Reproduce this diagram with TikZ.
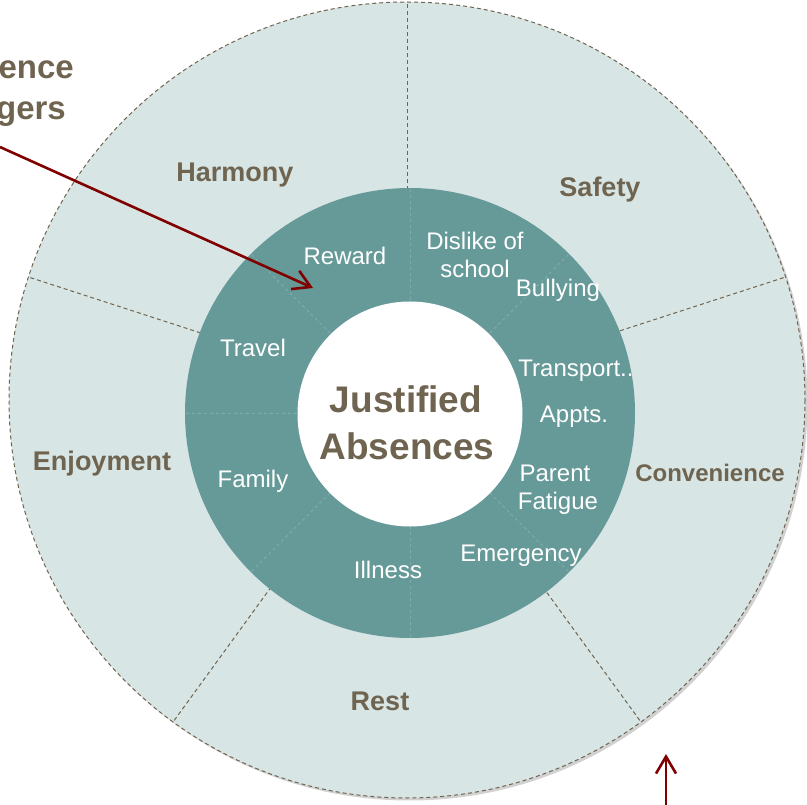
\documentclass[tikz,border=0pt]{standalone}
\usepackage{fontspec}
\setmainfont{Liberation Sans}
\usetikzlibrary{arrows.meta,calc}
\definecolor{ringlight}{RGB}{215,229,228}
\definecolor{ringteal}{RGB}{102,154,153}
\definecolor{brownt}{RGB}{111,100,80}
\definecolor{arrowred}{RGB}{128,0,0}
\definecolor{faintline}{RGB}{128,172,170}
\begin{document}
\begin{tikzpicture}[x=1pt,y=-1pt,
  seglabel/.style={text=brownt,font=\fontsize{27}{32}\selectfont\bfseries,inner sep=0pt,anchor=base},
  itemlabel/.style={text=white,font=\fontsize{24}{28}\selectfont,inner sep=0pt,anchor=base},
  titlelabel/.style={text=brownt,font=\fontsize{37}{45}\selectfont\bfseries,inner sep=0pt,anchor=base},
  sidelabel/.style={text=brownt,font=\fontsize{33}{40}\selectfont\bfseries,inner sep=0pt,anchor=base east},
  divider/.style={draw=brownt,line width=1pt,dash pattern=on 4pt off 3pt},
  faintdiv/.style={draw=faintline,line width=0.8pt,dash pattern=on 3pt off 3pt},
  redarrow/.style={draw=arrowred,line width=2.6pt,-{Straight Barb[length=17pt,width=20pt]}}]
\useasboundingbox (0,0) rectangle (807,805);
% outer ring
\coordinate (oc) at (407,400);
\fill[black,opacity=0.18] (409.5,402.5) circle[radius=398];
\fill[ringlight] (oc) circle[radius=398];
\draw[divider] (oc) circle[radius=398];
\foreach \a in {-90,-18,54,126,198}{
  \draw[divider] (oc) -- ++(\a:398);
}
% inner ring
\coordinate (ic) at (410,413);
\fill[ringteal] (ic) circle[radius=225];
\foreach \a in {-90,-45,-135,180,135,90,45}{
  \draw[faintdiv] ($(ic)+(\a:113)$) -- ($(ic)+(\a:225)$);
}
\fill[white] (410,414) circle[radius=112.5];
% outer labels
\node[seglabel] (harmony) at (235,182) {Harmony};
\node[seglabel] (safety) at (600,197) {Safety};
\node[seglabel] (enjoy) at (102,470) {Enjoyment};
\node[seglabel,font=\fontsize{24}{28}\selectfont\bfseries] (conv) at (710,481) {Convenience};
\node[seglabel] (rest) at (380,710) {Rest};
% inner labels
\node[itemlabel] (reward) at (345,265) {Reward};
\node[itemlabel] (dislike1) at (475,250) {Dislike of};
\node[itemlabel] (dislike2) at (475,278) {school};
\node[itemlabel] (bully) at (558,297) {Bullying};
\node[itemlabel] (transport) at (576,377) {Transport..};
\node[itemlabel] (appts) at (574,423) {Appts.};
\node[itemlabel] (parent1) at (555,481) {Parent};
\node[itemlabel] (parent2) at (558,509) {Fatigue};
\node[itemlabel] (emerg) at (521,561) {Emergency};
\node[itemlabel] (illness) at (388,578) {Illness};
\node[itemlabel] (travel) at (253,357) {Travel};
\node[itemlabel] (family) at (253,487) {Family};
% centre title
\node[titlelabel] (title1) at (406,413) {Justified};
\node[titlelabel] (title2) at (407,460) {Absences};
% side text (cut at the left edge, as in the reference)
\node[sidelabel] (side1) at (74,79) {ence};
\node[sidelabel] (side2) at (66,120) {gers};
% arrows
\coordinate (a1s) at (0,147);
\coordinate (a1e) at (313,288);
\draw[redarrow] (a1s) -- (a1e);
\coordinate (a2s) at (666,805);
\coordinate (a2e) at (666,754);
\draw[redarrow] (a2s) -- (a2e);
\end{tikzpicture}
\end{document}
